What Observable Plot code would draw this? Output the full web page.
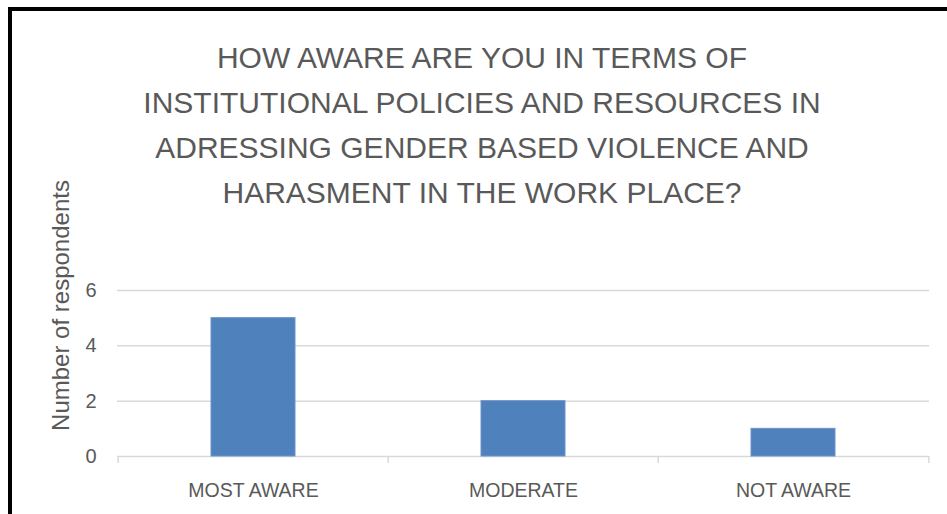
<!DOCTYPE html>
<html>
<head>
<meta charset="utf-8">
<script src="https://cdn.jsdelivr.net/npm/d3@7"></script>
<script src="https://cdn.jsdelivr.net/npm/@observablehq/plot@0.6"></script>
<style>
  html, body { margin: 0; padding: 0; background: #fff; }
  #wrap { position: relative; width: 947px; height: 514px; overflow: hidden; }
  #border { position: absolute; left: 8px; top: 7px; right: -10px; bottom: -10px;
            border-left: 4px solid #000; border-top: 4px solid #000; }
  #title { position: absolute; left: 0; top: 35px; width: 964px; text-align: center;
           font-family: "Liberation Sans", Arial, sans-serif; font-size: 30px; line-height: 45px;
           color: #595959; }
  #chart { position: absolute; left: 0; top: 0; }
</style>
</head>
<body>
<div id="wrap">
  <div id="border"></div>
  <div id="chart"></div>
  <div id="title"></div>
</div>
<script>
const titleLines = [
  "HOW AWARE ARE YOU IN TERMS OF",
  "INSTITUTIONAL POLICIES AND RESOURCES IN",
  "ADRESSING GENDER BASED VIOLENCE AND",
  "HARASMENT IN THE WORK PLACE?"
];
const categories = ["MOST AWARE", "MODERATE", "NOT AWARE"];
const counts = [5, 2, 1];
const yTicks = [0, 2, 4, 6];
const yLabel = "Number of respondents";

const data = categories.map((c, i) => ({category: c, count: counts[i]}));

document.getElementById("title").innerHTML = titleLines.join("<br>");

const W = 947, H = 514, mL = 117, mR = 18, mT = 290, mB = 58;
const step = (W - mL - mR) / categories.length;
const frameH = H - mT - mB;
const grey = "#d9d9d9";
const textColor = "#595959";

const chart = Plot.plot({
  width: W,
  height: H,
  marginLeft: mL,
  marginRight: mR,
  marginTop: mT,
  marginBottom: mB,
  style: {fontFamily: "'Liberation Sans', Arial, sans-serif", fontSize: "19px", color: textColor, background: "transparent", overflow: "visible"},
  x: {domain: categories, paddingInner: 0.69, paddingOuter: 0.345},
  y: {domain: [0, 6]},
  marks: [
    Plot.gridY(yTicks.filter(d => d > 0), {stroke: grey, strokeOpacity: 1, strokeWidth: 1.5}),
    Plot.ruleY([0], {stroke: grey, strokeWidth: 1.5}),
    Plot.ruleX(categories, {x: d => d, dx: -step / 2, insetTop: frameH, insetBottom: -7, stroke: grey, strokeWidth: 1.5}),
    Plot.ruleX(categories.slice(-1), {x: d => d, dx: step / 2, insetTop: frameH, insetBottom: -7, stroke: grey, strokeWidth: 1.5}),
    Plot.barY(data, {x: "category", y: "count", fill: "#4f81bd", stroke: "#6a94c8", strokeWidth: 1}),
    Plot.axisY({ticks: yTicks, tickFormat: d3.format("d"), tickSize: 0, tickPadding: 21, label: null, fontSize: 20, fill: textColor}),
    Plot.axisX({tickSize: 0, tickPadding: 27, label: null, fontSize: 19.5, fill: textColor}),
    Plot.text([yLabel], {frameAnchor: "left", textAnchor: "middle", lineAnchor: "middle", rotate: -90, dx: -56, dy: -68, fontSize: 24, fill: textColor})
  ]
});
document.getElementById("chart").appendChild(chart);
</script>
</body>
</html>
